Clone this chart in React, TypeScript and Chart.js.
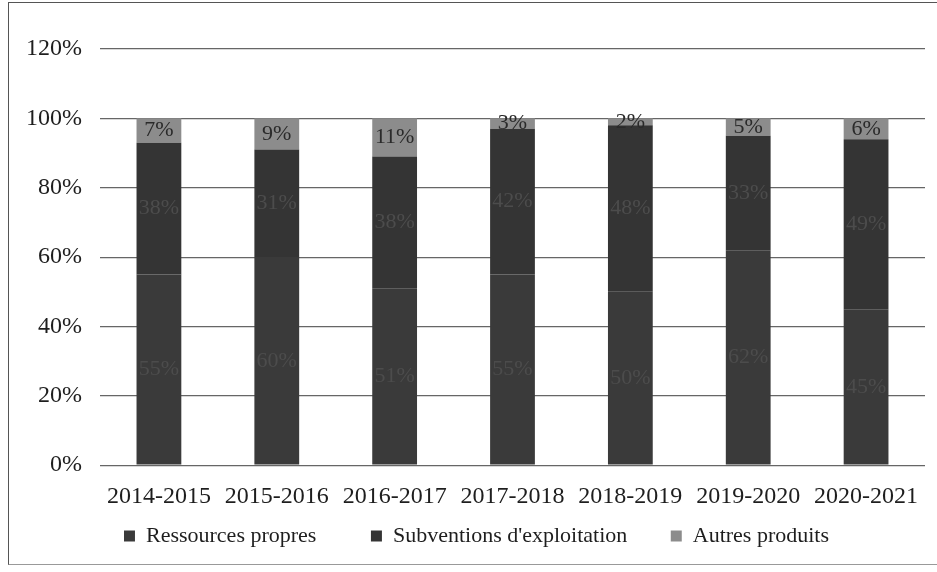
import React, { useEffect, useRef } from "react";
import { Chart, registerables } from "chart.js";

Chart.register(...registerables);

const categories = ["2014-2015", "2015-2016", "2016-2017", "2017-2018", "2018-2019", "2019-2020", "2020-2021"];
const ressourcesPropres = [55, 60, 51, 55, 50, 62, 45];
const subventions = [38, 31, 38, 42, 48, 33, 49];
const autresProduits = [7, 9, 11, 3, 2, 5, 6];
const seriesNames = ["Ressources propres", "Subventions d'exploitation", "Autres produits"];
const yMin = 0;
const yMax = 120;
const yStep = 20;

const SERIF = "'Liberation Serif', 'Times New Roman', serif";
const legendTrail = ["         ", "       ", ""];

const labelPlugin = {
  id: "segLabels",
  afterDatasetsDraw(chart: any) {
    const ctx = chart.ctx;
    ctx.save();
    ctx.font = `22px ${SERIF}`;
    ctx.textAlign = "center";
    ctx.textBaseline = "middle";
    chart.data.datasets.forEach((ds: any, di: number) => {
      const meta = chart.getDatasetMeta(di);
      meta.data.forEach((el: any, i: number) => {
        const v = ds.data[i];
        const cy = (el.y + el.base) / 2;
        ctx.fillStyle = di === 2 ? "#2a2a2a" : "#4c4c4c";
        ctx.fillText(v + "%", el.x, cy);
      });
    });
    ctx.restore();
  },
};

const legendShift = {
  id: "legendShift",
  afterLayout(chart: any) {
    const lg = chart.legend;
    if (lg) {
      lg.left += 10;
      lg.right += 10;
    }
  },
};

export default function App() {
  const ref = useRef<HTMLCanvasElement | null>(null);
  useEffect(() => {
    document.body.style.margin = "0";
    const canvas = ref.current!;
    const chart = new Chart(canvas, {
      type: "bar",
      data: {
        labels: categories,
        datasets: [
          { label: seriesNames[0], data: ressourcesPropres, backgroundColor: "#3a3a3a" },
          { label: seriesNames[1], data: subventions, backgroundColor: "#343434" },
          { label: seriesNames[2], data: autresProduits, backgroundColor: "#8c8c8c" },
        ],
      },
      options: {
        responsive: false,
        animation: false,
        devicePixelRatio: 1,
        layout: { padding: { top: 49, right: 12, left: 8, bottom: 15 } },
        datasets: { bar: { categoryPercentage: 1, barPercentage: 0.38 } },
        scales: {
          x: {
            stacked: true,
            grid: { display: false },
            border: { display: false },
            ticks: { color: "#1e1e1e", font: { family: SERIF, size: 24 }, padding: 9, maxRotation: 0 },
          },
          y: {
            stacked: true,
            min: yMin,
            max: yMax,
            border: { display: false },
            grid: { color: "#666666", lineWidth: 1.2, drawTicks: false },
            ticks: {
              stepSize: yStep,
              color: "#1e1e1e",
              font: { family: SERIF, size: 24 },
              padding: 18,
              callback: (v: any) => v + "%",
            },
          },
        },
        plugins: {
          tooltip: { enabled: false },
          legend: {
            position: "bottom",
            labels: {
              color: "#1e1e1e",
              font: { family: SERIF, size: 22 },
              boxWidth: 11,
              boxHeight: 11,
              padding: 5,
              generateLabels: (c: any) => {
                const base = Chart.defaults.plugins.legend.labels.generateLabels(c);
                return base.map((it: any, i: number) => ({ ...it, text: it.text + legendTrail[i] }));
              },
            },
          },
        },
      },
      plugins: [labelPlugin, legendShift],
    });
    return () => chart.destroy();
  }, []);
  return (
    <div style={{ position: "relative", width: 937, height: 572, background: "#fff", overflow: "hidden" }}>
      <canvas ref={ref} width={937} height={572} style={{ display: "block" }} />
      <div
        style={{
          position: "absolute",
          left: 8,
          top: 2,
          width: 940,
          height: 561,
          borderLeft: "1px solid #555",
          borderTop: "1px solid #555",
          borderBottom: "1px solid #999",
          pointerEvents: "none",
        }}
      />
    </div>
  );
}
